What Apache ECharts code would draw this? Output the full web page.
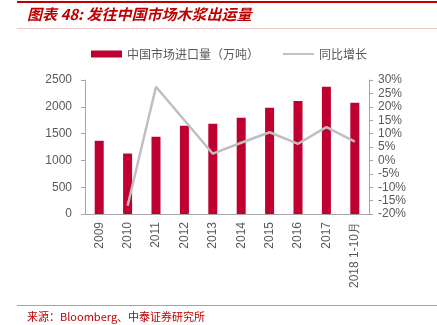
<!DOCTYPE html>
<html><head><meta charset="utf-8">
<script src="https://cdn.jsdelivr.net/npm/echarts@6/dist/echarts.min.js"></script>
<style>html,body{margin:0;padding:0;background:#fff}#c{width:437px;height:325px}</style>
</head><body><div id="c"></div>
<script>
const categories = ['2009','2010','2011','2012','2013','2014','2015','2016','2017','2018 1-10月'];
const importVolume = [1366, 1128, 1441, 1647, 1684, 1796, 1984, 2107, 2376, 2077];
const yoyGrowth = ['-', -16.9, 27.5, 15.0, 2.5, 6.6, 10.5, 6.2, 12.4, 7.0];
const leftTicks = [0, 500, 1000, 1500, 2000, 2500];
const rightTicks = [-20, -15, -10, -5, 0, 5, 10, 15, 20, 25, 30];

const chart = echarts.init(document.getElementById('c'), null, {renderer:'canvas'});
const cjk = '"Noto Sans CJK SC", sans-serif';
const latin = '"Liberation Sans", Arial, sans-serif';
chart.setOption({
  animation:false,
  backgroundColor:'#fff',
  graphic:[
    {type:'rect', shape:{x:17,y:1,width:420,height:2}, style:{fill:'#C00000'}},
    {type:'text', left:27, top:7, style:{text:'图表 48: 发往中国市场木浆出运量', font:'italic bold 15px ' + cjk, fill:'#C00000'}},
    {type:'rect', shape:{x:17,y:28,width:420,height:1}, style:{fill:'#F0C8C8'}},
    {type:'rect', shape:{x:17,y:305,width:420,height:1}, style:{fill:'#E08A8A'}},
    {type:'text', left:27, top:311, style:{text:'来源：Bloomberg、中泰证券研究所', font:'11px ' + cjk, fill:'#C00000'}}
  ],
  legend:{
    top:43, left:86, itemGap:24, itemWidth:31, itemHeight:7,
    textStyle:{fontFamily:cjk, fontSize:12, color:'#595959'},
    data:[
      {name:'中国市场进口量（万吨）', icon:'rect'},
      {name:'同比增长', icon:'path://M0,0 L32,0 L32,2 L0,2 Z', itemStyle:{color:'#BFBFBF'}}
    ]
  },
  grid:{left:85, right:68, top:80, bottom:111},
  xAxis:{
    type:'category', data:categories,
    axisLine:{lineStyle:{color:'#A6A6A6'}},
    axisTick:{length:4, lineStyle:{color:'#A6A6A6'}},
    axisLabel:{rotate:90, margin:8, color:'#595959', fontSize:12, fontFamily:latin, interval:0}
  },
  yAxis:[
    {type:'value', min:leftTicks[0], max:leftTicks[leftTicks.length-1], interval:500,
     axisLine:{show:true, lineStyle:{color:'#A6A6A6'}},
     axisTick:{show:true, length:4, lineStyle:{color:'#A6A6A6'}},
     splitLine:{show:false},
     axisLabel:{margin:13, color:'#595959', fontSize:12, fontFamily:latin, formatter:function(v){return String(v);}}},
    {type:'value', min:rightTicks[0], max:rightTicks[rightTicks.length-1], interval:5,
     axisLine:{show:true, lineStyle:{color:'#A6A6A6'}},
     axisTick:{show:true, length:4, lineStyle:{color:'#A6A6A6'}},
     splitLine:{show:false},
     axisLabel:{margin:9, color:'#595959', fontSize:12, fontFamily:latin, formatter:'{value}%'}}
  ],
  series:[
    {name:'中国市场进口量（万吨）', type:'bar', data:importVolume, barWidth:9,
     itemStyle:{color:'#C00030'}},
    {name:'同比增长', type:'line', yAxisIndex:1, data:yoyGrowth, symbol:'none',
     lineStyle:{color:'#BFBFBF', width:2.5}, itemStyle:{color:'#BFBFBF'}}
  ]
});
</script></body></html>
